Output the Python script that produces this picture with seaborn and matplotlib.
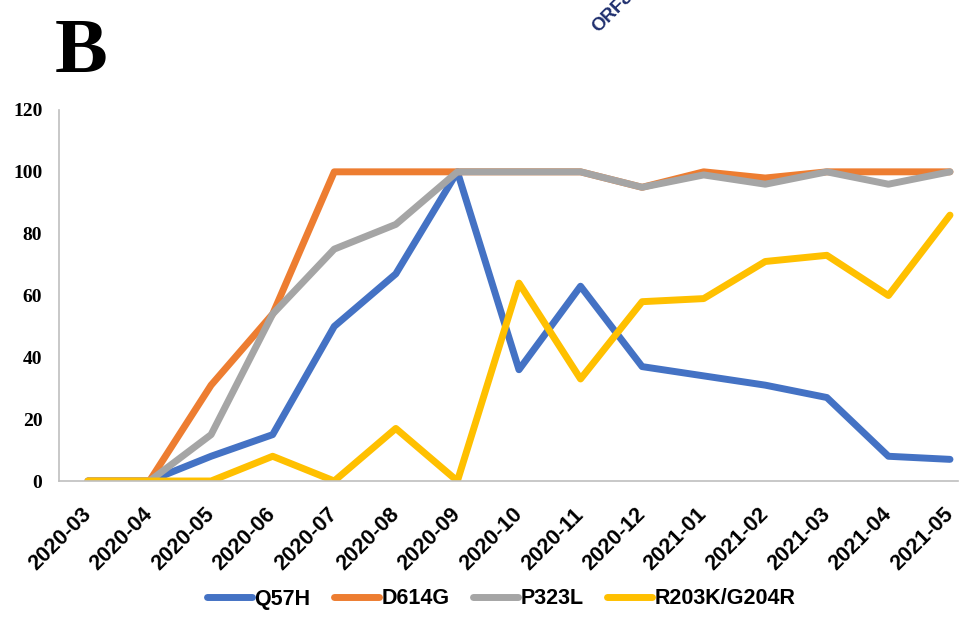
import matplotlib
matplotlib.use("Agg")
import matplotlib.pyplot as plt
import seaborn as sns
import pandas as pd

months = ["2020-03", "2020-04", "2020-05", "2020-06", "2020-07", "2020-08", "2020-09",
          "2020-10", "2020-11", "2020-12", "2021-01", "2021-02", "2021-03", "2021-04", "2021-05"]
q57h = [0, 0, 8, 15, 50, 67, 100, 36, 63, 37, 34, 31, 27, 8, 7]
d614g = [0, 0, 31, 54, 100, 100, 100, 100, 100, 95, 100, 98, 100, 100, 100]
p323l = [0, 0, 15, 54, 75, 83, 100, 100, 100, 95, 99, 96, 100, 96, 100]
r203k = [0, 0, 0, 8, 0, 17, 0, 64, 33, 58, 59, 71, 73, 60, 86]
series_names = ["Q57H", "D614G", "P323L", "R203K/G204R"]
colors = ["#4472C4", "#ED7D31", "#A5A5A5", "#FFC000"]
yticks = [0, 20, 40, 60, 80, 100, 120]

rows = []
for name, vals in zip(series_names, [q57h, d614g, p323l, r203k]):
    for i, (m, v) in enumerate(zip(months, vals)):
        rows.append({"idx": i, "month": m, "value": v, "series": name})
df = pd.DataFrame(rows)

sns.set_style("white")
plt.rcParams["text.color"] = "black"
plt.rcParams["xtick.color"] = "black"
plt.rcParams["ytick.color"] = "black"

fig = plt.figure(figsize=(9.65, 6.24), dpi=100)
ax = fig.add_axes([59 / 965, 1 - 481 / 624, (958 - 59) / 965, (481 - 110) / 624])

sns.lineplot(data=df, x="idx", y="value", hue="series", hue_order=series_names,
             palette=colors, linewidth=5.0, ax=ax, legend=True,
             solid_capstyle="round", solid_joinstyle="round")

ax.set_xlim(-0.47, 14.13)
ax.set_ylim(0, 120)
ax.set_xticks(range(len(months)))
ax.set_xticklabels(months, rotation=45, ha="right", va="center", rotation_mode="anchor",
                   fontsize=15.5, fontweight="bold", family="Liberation Sans", color="black")
ax.set_yticks(yticks)
ax.set_yticklabels([str(t) for t in yticks], fontsize=14, fontweight="bold",
                   family="Liberation Serif", color="black")
ax.tick_params(axis="x", length=0, pad=22)
ax.tick_params(axis="y", length=0, pad=12)
ax.set_xlabel("")
ax.set_ylabel("")
for s in ["top", "right"]:
    ax.spines[s].set_visible(False)
for s in ["left", "bottom"]:
    ax.spines[s].set_color("#BFBFBF")
    ax.spines[s].set_linewidth(1.2)

handles, labels = ax.get_legend_handles_labels()
ax.legend_.remove()
for h in handles:
    h.set_linewidth(5)
    h.set_solid_capstyle("round")
fig.legend(handles, labels, loc="center", bbox_to_anchor=(501 / 965, 1 - 599 / 624), ncol=4,
           frameon=False, handlelength=2.1, handletextpad=0.1, columnspacing=1.1,
           labelcolor="black",
           prop={"family": "Liberation Sans", "weight": "bold", "size": 15.5})

fig.text(55 / 965, 1 - 72 / 624, "B", fontsize=57, fontweight="bold",
         family="Liberation Serif", ha="left", va="baseline", color="black")
fig.text(601 / 965, 1 - 36 / 624, "ORF8", fontsize=13.5, fontweight="bold",
         family="Liberation Sans", color="#1F2F6E", rotation=45,
         ha="left", va="bottom", rotation_mode="anchor")

fig.savefig("out.png", dpi=100)
